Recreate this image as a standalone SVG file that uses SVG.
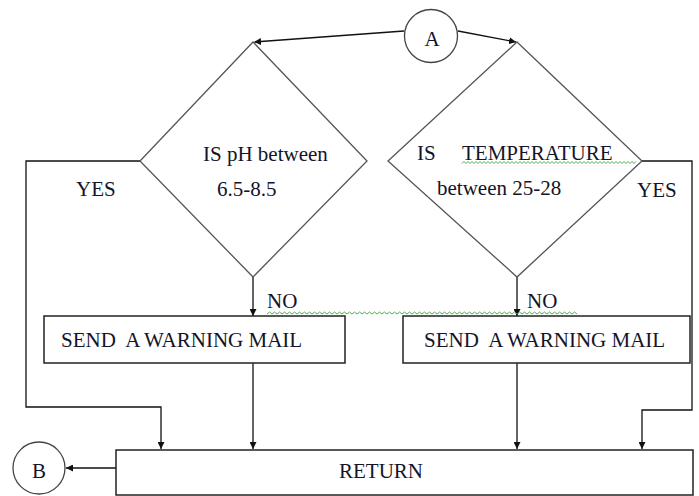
<svg xmlns="http://www.w3.org/2000/svg" width="699" height="496" viewBox="0 0 699 496" font-family="'Liberation Serif', 'Times New Roman', 'DejaVu Serif', serif">
<style>
text{font-family:'Liberation Serif','Times New Roman','DejaVu Serif',serif;font-size:21px;fill:#141428}
.dia{fill:none;stroke:#555;stroke-width:1.3}
.box{fill:#fff;stroke:#222;stroke-width:1.5}
.circ{fill:#fff;stroke:#444;stroke-width:1.3}
.ln{fill:none;stroke:#111;stroke-width:1.3}
.wavy{fill:none;stroke:#3aa83a;stroke-width:0.9}
</style>
<defs>
<marker id="ah" viewBox="0 0 10 10" refX="10" refY="5" markerWidth="7" markerHeight="7" markerUnits="userSpaceOnUse" orient="auto">
<path d="M0,0 L10,5 L0,10 z" fill="#111"/>
</marker>
</defs>
<rect width="699" height="496" fill="#fff"/>
<g id="connectors">
<line class="ln" x1="404" y1="31" x2="254" y2="42" marker-end="url(#ah)"/>
<line class="ln" x1="458" y1="31" x2="516" y2="42" marker-end="url(#ah)"/>
<line class="ln" x1="253" y1="277" x2="253" y2="316" marker-end="url(#ah)"/>
<line class="ln" x1="517" y1="277" x2="517" y2="316" marker-end="url(#ah)"/>
<line class="ln" x1="253" y1="363" x2="253" y2="449" marker-end="url(#ah)"/>
<line class="ln" x1="517" y1="363" x2="517" y2="449" marker-end="url(#ah)"/>
<polyline class="ln" points="140,161 26,161 26,407 161,407 161,449" marker-end="url(#ah)"/>
<polyline class="ln" points="642,161 692,161 692,410 642,410 642,449" marker-end="url(#ah)"/>
<line class="ln" x1="116" y1="468" x2="66" y2="468" marker-end="url(#ah)"/>
</g>
<g id="nodeA">
<circle class="circ" cx="431" cy="36" r="26.5"/>
<text x="432" y="46" text-anchor="middle">A</text>
</g>
<g id="decisionPH">
<polygon class="dia" points="253,42 367,161 253,277 140,161"/>
<text x="203" y="161">IS pH between</text>
<text x="217" y="196">6.5-8.5</text>
</g>
<g id="decisionTemp">
<polygon class="dia" points="517,42 642,161 517,277 388,161"/>
<text x="417" y="160">IS</text>
<text x="462" y="160">TEMPERATURE</text>
<path class="wavy" d="M462,163.5 l2,-2 l2,2 l2,-2 l2,2 l2,-2 l2,2 l2,-2 l2,2 l2,-2 l2,2 l2,-2 l2,2 l2,-2 l2,2 l2,-2 l2,2 l2,-2 l2,2 l2,-2 l2,2 l2,-2 l2,2 l2,-2 l2,2 l2,-2 l2,2 l2,-2 l2,2 l2,-2 l2,2 l2,-2 l2,2 l2,-2 l2,2 l2,-2 l2,2 l2,-2 l2,2 l2,-2 l2,2 l2,-2 l2,2 l2,-2 l2,2 l2,-2 l2,2 l2,-2 l2,2 l2,-2 l2,2 l2,-2 l2,2 l2,-2 l2,2 l2,-2 l2,2 l2,-2 l2,2 l2,-2 l2,2 l2,-2 l2,2 l2,-2 l2,2 l2,-2 l2,2 l2,-2 l2,2 l2,-2 l2,2 l2,-2 l2,2 l2,-2 l2,2 l2,-2 l2,2 l2,-2 l2,2 l2,-2 l2,2 l2,-2 l2,2 l2,-2 l2,2 l2,-2 l2,2 l2,-2"/>
<text x="437" y="195">between 25-28</text>
</g>
<g id="labels">
<text x="76" y="196">YES</text>
<text x="637" y="197">YES</text>
<text x="267" y="308">NO</text>
<text x="527" y="308">NO</text>
<path class="wavy" d="M267,314 l2.5,-2 l2.5,2 l2.5,-2 l2.5,2 l2.5,-2 l2.5,2 l2.5,-2 l2.5,2 l2.5,-2 l2.5,2 l2.5,-2 l2.5,2 l2.5,-2 l2.5,2 l2.5,-2 l2.5,2 l2.5,-2 l2.5,2 l2.5,-2 l2.5,2 l2.5,-2 l2.5,2 l2.5,-2 l2.5,2 l2.5,-2 l2.5,2 l2.5,-2 l2.5,2 l2.5,-2 l2.5,2 l2.5,-2 l2.5,2 l2.5,-2 l2.5,2 l2.5,-2 l2.5,2 l2.5,-2 l2.5,2 l2.5,-2 l2.5,2 l2.5,-2 l2.5,2 l2.5,-2 l2.5,2 l2.5,-2 l2.5,2 l2.5,-2 l2.5,2 l2.5,-2 l2.5,2 l2.5,-2 l2.5,2 l2.5,-2 l2.5,2 l2.5,-2 l2.5,2 l2.5,-2 l2.5,2 l2.5,-2 l2.5,2 l2.5,-2 l2.5,2 l2.5,-2 l2.5,2 l2.5,-2 l2.5,2 l2.5,-2 l2.5,2 l2.5,-2 l2.5,2 l2.5,-2 l2.5,2 l2.5,-2 l2.5,2 l2.5,-2 l2.5,2 l2.5,-2 l2.5,2 l2.5,-2 l2.5,2 l2.5,-2 l2.5,2 l2.5,-2 l2.5,2 l2.5,-2 l2.5,2 l2.5,-2 l2.5,2 l2.5,-2 l2.5,2 l2.5,-2 l2.5,2 l2.5,-2 l2.5,2 l2.5,-2 l2.5,2 l2.5,-2 l2.5,2 l2.5,-2 l2.5,2 l2.5,-2 l2.5,2 l2.5,-2 l2.5,2 l2.5,-2 l2.5,2 l2.5,-2 l2.5,2 l2.5,-2 l2.5,2 l2.5,-2 l2.5,2 l2.5,-2 l2.5,2 l2.5,-2 l2.5,2 l2.5,-2 l2.5,2 l2.5,-2 l2.5,2 l2.5,-2 l2.5,2 l2.5,-2 l2.5,2"/>
</g>
<g id="warnLeft">
<rect class="box" x="44" y="316" width="301" height="47"/>
<text x="61" y="347" xml:space="preserve">SEND  A WARNING MAIL</text>
</g>
<g id="warnRight">
<rect class="box" x="403" y="316" width="287" height="47"/>
<text x="424" y="347" xml:space="preserve">SEND  A WARNING MAIL</text>
</g>
<g id="returnBox">
<rect class="box" x="116" y="450" width="577" height="45"/>
<text x="339" y="478">RETURN</text>
</g>
<g id="nodeB">
<circle class="circ" cx="39" cy="468" r="26"/>
<text x="39" y="478" text-anchor="middle">B</text>
</g>
</svg>
